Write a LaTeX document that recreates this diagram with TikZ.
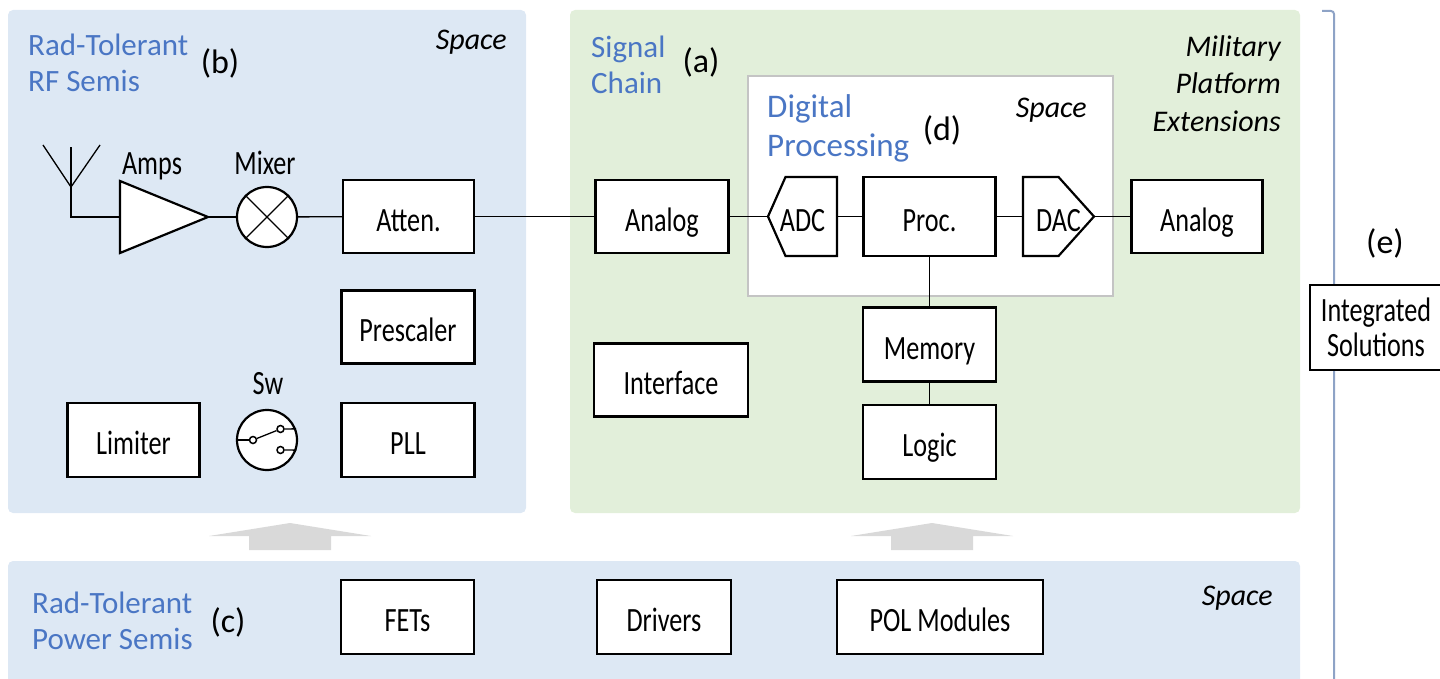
\documentclass[tikz,border=0pt]{standalone}
\usepackage{fontspec}
\setmainfont{Carlito}
\newfontfamily\boxfont[FakeStretch=0.77]{Carlito}
\usetikzlibrary{calc}
\definecolor{RFBlue}{HTML}{DDE8F4}
\definecolor{ChainGreen}{HTML}{E2EFDA}
\definecolor{HeadBlue}{HTML}{4A76C4}
\definecolor{DSPGray}{HTML}{C4C4C4}
\definecolor{ArrowGray}{HTML}{D9D9D9}
\definecolor{BracketBlue}{HTML}{8EA3C6}

\begin{document}
\begin{tikzpicture}[x=1pt,y=-1pt]
    \tikzstyle{blk}=[draw,line width=2.2pt,fill=white,minimum width=131pt,minimum height=73pt,inner sep=0pt,text height=29pt,text depth=0pt,font=\boxfont\fontsize{34}{35}\selectfont]
    \tikzstyle{lbl}=[inner sep=0pt,font=\boxfont\fontsize{34}{35}\selectfont]
    \tikzstyle{head}=[anchor=north west,inner sep=0pt,align=left,text=HeadBlue,font=\fontsize{31}{36}\selectfont]
    \tikzstyle{tagtxt}=[inner sep=0pt,font=\fontsize{34}{36}\selectfont]
    \tikzstyle{spc}=[anchor=base east,inner sep=0pt,align=right,font=\itshape\fontsize{30}{37.5}\selectfont]
    \tikzstyle{wire}=[line width=1.3pt]
    \tikzstyle{ring}=[circle,draw,line width=2.2pt,fill=white,minimum size=60pt,inner sep=0pt]
    \tikzstyle{term}=[circle,draw,line width=1.5pt,fill=white,inner sep=0pt,minimum size=7pt]

    \useasboundingbox (0,0) rectangle (1440,679);

    % panels
    \fill[RFBlue,rounded corners=5pt] (8,10) rectangle (526,513);
    \fill[ChainGreen,rounded corners=5pt] (570,10) rectangle (1300,513);
    \fill[RFBlue,rounded corners=5pt] (8,561) rectangle (1300,695);

    % power arrows
    \foreach \ax in {290,932} {
        \fill[ArrowGray] (\ax,523) -- ++(81,13) -- ++(-40,0) -- ++(0,14) -- ++(-82,0) -- ++(0,-14) -- ++(-40,0) -- cycle;
    }

    % integration bracket
    \draw[BracketBlue,line width=2pt,rounded corners=3pt] (1322,11) -- (1334,11) -- (1334,679);

    % digital processing frame
    \node[draw=DSPGray,line width=2pt,fill=white,minimum width=365pt,minimum height=220pt] (dsp) at (930.5,186) {};

    % headings
    \node[head] at (28,34) {Rad-Tolerant\\RF Semis};
    \node[tagtxt] at (220,63) {(b)};
    \node[spc] at (507,50) {Space};

    \node[head] at (591,36) {Signal\\Chain};
    \node[tagtxt] at (701,62) {(a)};
    \node[spc,anchor=north east] at (1281,35) {Military\\Platform\\Extensions};

    \node[head,font=\fontsize{33}{39}\selectfont] at (767,94) {Digital\\Processing};
    \node[tagtxt] at (942,130) {(d)};
    \node[spc] at (1087,118) {Space};

    \node[head] at (32,592) {Rad-Tolerant\\Power Semis};
    \node[tagtxt] at (228,622) {(c)};
    \node[spc] at (1273,605) {Space};

    % antenna
    \coordinate (ant_c) at (71,187);
    \draw[wire] (ant_c) -- +(0,-40);
    \draw[wire] (ant_c) -- +(-28,-42);
    \draw[wire] (ant_c) -- +(29,-42);

    % amps
    \coordinate (amp_w) at (120,217);
    \coordinate (amp_e) at ($(amp_w)+(88,0)$);
    \draw[line width=2.2pt,fill=white] ($(amp_w)+(0,-36)$) -- (amp_e) -- ($(amp_w)+(0,36)$) -- cycle;
    \node[lbl,anchor=base] at (152,175) {Amps};
    \draw[wire] (ant_c) |- (amp_w);

    % mixer
    \node[ring] (mix) at (267,217) {};
    \draw[wire] (mix.45) -- (mix.225);
    \draw[wire] (mix.135) -- (mix.315);
    \node[lbl,anchor=base] at (265,175) {Mixer};
    \draw[wire] (amp_e) -- (mix);

    % attenuator
    \node[blk] (atten) at (408.5,216.5) {Atten.};
    \draw[wire] (mix) -- (atten);

    % prescaler, pll, limiter
    \node[blk,minimum width=133pt] (presc) at (408,327) {Prescaler};
    \node[blk,minimum width=133pt,minimum height=74pt] (pll) at (408,440) {PLL};
    \node[blk,minimum width=132pt,minimum height=74pt] (lim) at (133.5,440) {Limiter};

    % switch
    \node[ring] (sw) at (267,440) {};
    \node[lbl,anchor=base] at (268,394) {Sw};
    \node[term] (sw_a) at ($(sw)+(-14,0)$) {};
    \node[term] (sw_b) at ($(sw)+(13.5,-11)$) {};
    \node[term] (sw_c) at ($(sw)+(13.5,10)$) {};
    \draw[wire] (sw.west) -- (sw_a);
    \draw[wire] (sw_a) -- (sw_b);
    \draw[wire] (sw_b) -- (sw.21);
    \draw[wire] (sw_c) -- (sw.-19);

    % analog in
    \node[blk,minimum width=133pt] (ana_in) at (662,216.5) {Analog};
    \draw[wire] (atten) -- (ana_in);

    % adc
    \coordinate (adc_c) at (802.5,216.5);
    \draw[line width=2.2pt,fill=white] ($(adc_c)+(-17,-39.5)$) -- ($(adc_c)+(34.5,-39.5)$) -- ($(adc_c)+(34.5,39.5)$) -- ($(adc_c)+(-17,39.5)$) -- ($(adc_c)+(-34.5,0)$) -- cycle;
    \node[lbl,minimum width=69pt,minimum height=79pt,text height=29pt,text depth=0pt] (adc) at (adc_c) {ADC};

    % processor
    \node[blk,minimum width=132pt,minimum height=79pt] (proc) at (929.5,216.5) {Proc.};

    % dac
    \coordinate (dac_c) at (1058.5,216.5);
    \draw[line width=2.2pt,fill=white] ($(dac_c)+(-35.5,-39.5)$) -- ($(dac_c)+(0,-39.5)$) -- ($(dac_c)+(35.5,0)$) -- ($(dac_c)+(0,39.5)$) -- ($(dac_c)+(-35.5,39.5)$) -- cycle;
    \node[lbl,minimum width=71pt,minimum height=79pt,text height=29pt,text depth=0pt] (dac) at (dac_c) {DAC};

    % analog out
    \node[blk] (ana_out) at (1197,216.5) {Analog};

    \draw[wire] (ana_in) -- (adc.west);
    \draw[wire] (adc) -- (proc);
    \draw[wire] (proc) -- (dac);
    \draw[wire] (dac.east) -- (ana_out);

    % memory, logic
    \node[blk,minimum width=133pt,minimum height=74pt] (mem) at (929.5,344.5) {Memory};
    \node[blk,minimum width=133pt,minimum height=74pt] (logic) at (929.5,442) {Logic};
    \draw[wire] (proc) -- (mem);
    \draw[wire] (mem) -- (logic);

    % interface
    \node[blk,minimum width=154pt] (iface) at (671,380) {Interface};

    % power semis
    \node[blk,minimum width=133pt,minimum height=74pt] (fets) at (407.5,617) {FETs};
    \node[blk,minimum width=134pt,minimum height=74pt] (drv) at (664,617) {Drivers};
    \node[blk,minimum width=206pt,minimum height=74pt] (pol) at (940,617) {POL Modules};

    % integrated solutions
    \node[tagtxt] at (1385,243) {(e)};
    \node[draw,line width=2.2pt,fill=white,align=center,minimum width=132pt,minimum height=85pt,inner sep=0pt,font=\boxfont\fontsize{34}{35}\selectfont] (integ) at (1376,327.5) {Integrated\\Solutions};

\end{tikzpicture}
\end{document}
